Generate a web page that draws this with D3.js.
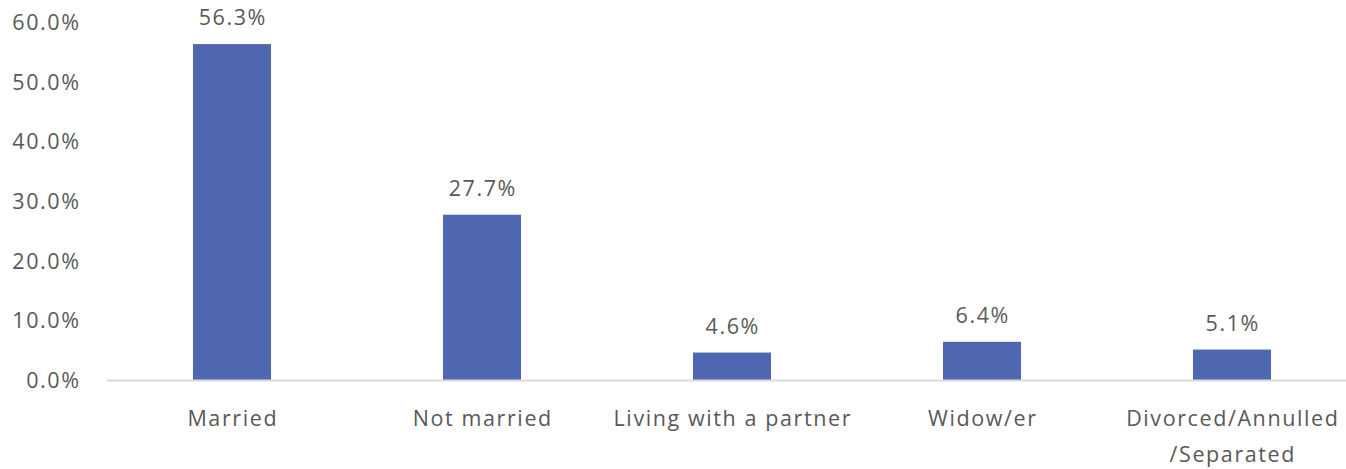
<!DOCTYPE html>
<html><head><meta charset="utf-8">
<script src="https://cdn.jsdelivr.net/npm/d3@7"></script>
<style>body{margin:0;background:#fff;} svg text{font-family:"Open Sans",sans-serif;fill:#595959;letter-spacing:1.6px;}</style>
</head><body><svg id="c" width="1346" height="469"></svg>
<script>
const categories = ["Married","Not married","Living with a partner","Widow/er","Divorced/Annulled/Separated"];
const categoryLines = [["Married"],["Not married"],["Living with a partner"],["Widow/er"],["Divorced/Annulled","/Separated"]];
const values = [56.3, 27.7, 4.6, 6.4, 5.1];
const yTicks = [0,10,20,30,40,50,60];

const svg = d3.select("#c");
const x = d3.scaleBand().domain(categories).range([107,1357]).paddingInner(0.688).paddingOuter(0.344);
const y = d3.scaleLinear().domain([0,60]).range([380,22]);

svg.append("g").selectAll("rect").data(values).join("rect")
  .attr("x",(d,i)=>x(categories[i])).attr("width",x.bandwidth())
  .attr("y",d=>y(d)).attr("height",d=>y(0)-y(d)).attr("fill","#4F67B0");

svg.append("line").attr("x1",107).attr("x2",1357).attr("y1",y(0)+0.5).attr("y2",y(0)+0.5)
  .attr("stroke","#D9D9D9").attr("stroke-width",2);

const yAxis = d3.axisLeft(y).tickValues(yTicks).tickFormat(d=>d.toFixed(1)+"%").tickSize(0).tickPadding(0);
const ga = svg.append("g").attr("transform","translate(80.6,0)").call(yAxis);
ga.select(".domain").remove();
ga.selectAll("text").attr("font-size",21.5).attr("dy","0.35em").style("font-family","'Open Sans',sans-serif").attr("fill","#595959");

svg.append("g").selectAll("text").data(values).join("text")
  .attr("x",(d,i)=>x(categories[i])+x.bandwidth()/2+0.8).attr("y",d=>y(d)-19)
  .attr("text-anchor","middle").attr("font-size",21.5).text(d=>d.toFixed(1)+"%");

const cl = svg.append("g").selectAll("text").data(categoryLines).join("text")
  .attr("x",(d,i)=>x(categories[i])+x.bandwidth()/2+0.8).attr("y",426)
  .attr("text-anchor","middle").attr("font-size",21.5);
cl.selectAll("tspan").data(d=>d).join("tspan")
  .attr("x",function(){return this.parentNode.getAttribute("x");})
  .attr("dy",(d,i)=>i?36:0).text(d=>d);
</script></body></html>
